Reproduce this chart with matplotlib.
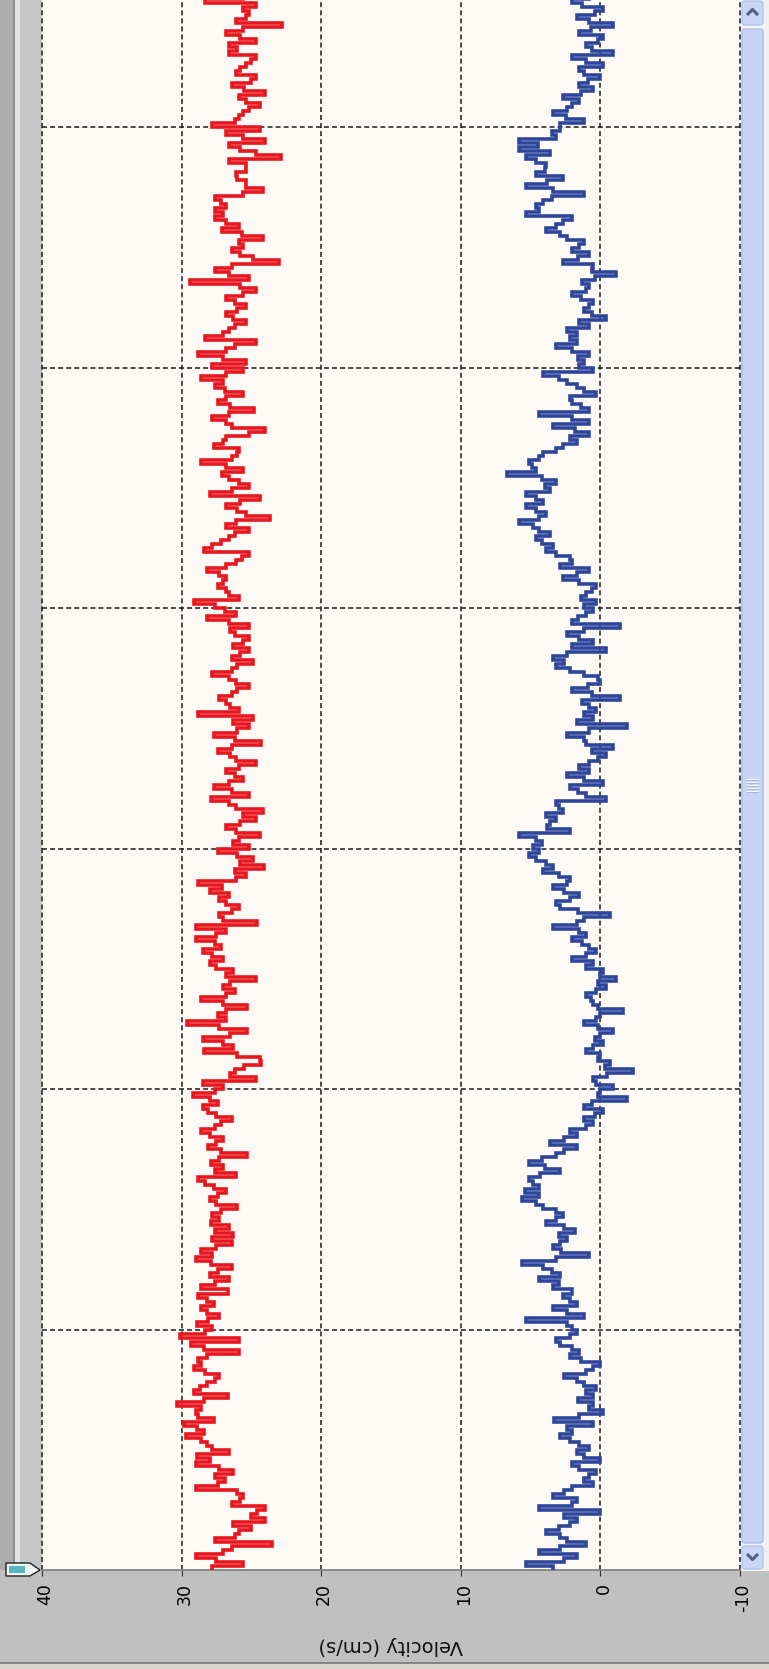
import numpy as np
import matplotlib.pyplot as plt
from matplotlib.patches import Rectangle, FancyBboxPatch, Polygon
from matplotlib.transforms import ScaledTranslation

plt.rcParams['lines.scale_dashes'] = False
plt.rcParams['font.family'] = ['DejaVu Sans']

# velocity traces, oldest sample first (bottom of the picture)
red_velocity = [
    27.8, 25.6, 27.5, 29.0, 27.0, 26.4, 23.5, 27.6, 26.2, 25.9,
    25.0, 26.3, 24.0, 25.0, 24.6, 24.0, 26.4, 25.8, 25.6, 26.0,
    29.0, 27.4, 26.9, 27.6, 26.3, 27.3, 29.0, 28.0, 28.9, 26.6,
    27.8, 28.2, 28.6, 29.7, 28.4, 28.9, 29.8, 27.7, 28.8, 29.0,
    28.6, 30.3, 28.4, 26.7, 29.1, 28.7, 28.2, 27.6, 27.3, 28.3,
    29.1, 28.6, 28.8, 28.2, 25.9, 28.4, 29.3, 25.9, 30.1, 28.3,
    27.8, 28.9, 28.1, 27.3, 28.2, 28.6, 27.7, 28.2, 28.8, 26.7,
    28.6, 27.6, 26.6, 28.0, 27.4, 26.4, 27.9, 29.0, 27.8, 28.6,
    27.5, 26.4, 27.8, 26.3, 27.6, 26.6, 27.9, 27.3, 27.8, 27.2,
    26.0, 27.5, 28.0, 27.4, 26.8, 27.7, 28.3, 28.8, 26.1, 27.6,
    27.0, 27.9, 27.3, 25.3, 27.2, 28.1, 27.5, 27.0, 28.0, 28.6,
    27.6, 27.2, 26.4, 27.5, 28.1, 28.5, 27.4, 28.0, 29.2, 27.6,
    27.0, 28.5, 24.7, 26.5, 26.2, 25.5, 24.3, 24.4, 26.0, 28.4,
    26.3, 27.0, 28.5, 26.5, 25.3, 27.3, 29.6, 26.8, 27.4, 26.8,
    25.3, 27.0, 28.6, 26.8, 26.2, 27.0, 26.5, 24.7, 26.8, 26.3,
    27.5, 28.0, 27.0, 27.8, 28.5, 27.2, 27.6, 29.0, 27.5, 26.8,
    29.0, 24.6, 27.0, 27.3, 26.4, 25.9, 26.8, 27.3, 26.6, 28.0,
    27.1, 28.8, 26.1, 25.4, 26.2, 24.1, 25.8, 24.9, 26.0, 27.4,
    25.2, 26.3, 25.9, 24.4, 26.1, 26.8, 25.8, 24.7, 25.6, 24.2,
    26.1, 26.6, 27.9, 25.2, 26.4, 27.7, 26.6, 25.6, 26.2, 26.8,
    25.9, 24.7, 26.1, 26.5, 27.4, 26.4, 24.3, 26.2, 27.7, 26.0,
    25.2, 26.3, 24.9, 28.8, 25.9, 26.5, 26.8, 27.3, 26.4, 26.0,
    25.2, 26.1, 26.6, 27.8, 26.4, 26.0, 24.9, 26.4, 25.8, 25.2,
    26.3, 25.6, 25.2, 26.2, 26.5, 25.2, 26.6, 28.2, 26.1, 26.9,
    27.6, 29.1, 25.9, 26.6, 26.8, 27.4, 27.0, 26.8, 27.3, 28.2,
    26.8, 26.1, 25.7, 25.2, 28.4, 27.8, 27.2, 26.6, 26.2, 25.2,
    26.8, 26.1, 23.7, 25.4, 26.0, 26.8, 25.8, 24.4, 28.0, 26.4,
    25.2, 25.9, 26.6, 27.1, 25.6, 26.8, 28.6, 26.4, 26.0, 25.9,
    27.7, 27.0, 26.8, 25.2, 24.0, 26.4, 26.8, 27.8, 26.6, 24.8,
    26.5, 27.4, 26.8, 25.6, 26.9, 27.6, 27.0, 28.6, 26.8, 25.6,
    27.8, 25.4, 27.0, 28.8, 26.8, 26.2, 24.7, 28.3, 27.0, 26.6,
    26.2, 25.4, 26.3, 26.8, 26.0, 25.4, 26.2, 26.8, 25.6, 24.7,
    25.8, 29.4, 25.2, 26.6, 27.6, 26.4, 23.0, 24.9, 25.8, 26.4,
    25.6, 25.9, 24.2, 25.7, 27.1, 25.9, 26.8, 27.6, 27.0, 27.6,
    26.8, 27.2, 27.6, 25.6, 24.2, 25.4, 25.4, 26.0, 26.1, 25.4,
    25.4, 26.6, 22.9, 24.7, 25.8, 26.6, 24.0, 25.6, 26.8, 24.4,
    27.8, 26.2, 25.9, 25.6, 25.2, 24.4, 25.4, 25.9, 24.0, 25.5,
    26.4, 25.0, 24.7, 26.1, 25.8, 25.4, 25.0, 24.7, 26.6, 26.0,
    26.6, 24.7, 25.8, 26.8, 25.6, 22.8, 26.1, 25.4, 25.2, 25.6,
    24.7, 28.3, 25.6, 26.0,
]

blue_velocity = [
    3.4, 5.3, 2.6, 1.7, 4.4, 2.9, 1.0, 2.4, 2.9, 3.9,
    3.0, 2.2, 1.7, 2.6, 0.0, 4.4, 2.0, 1.7, 3.4, 2.6,
    2.0, 0.5, 1.2, 0.8, 0.3, 1.5, 2.0, 0.0, 1.2, 1.7,
    0.8, 1.5, 2.2, 2.9, 2.0, 2.4, 0.5, 3.3, 1.5, -0.2,
    0.8, 0.5, 1.6, 0.5, 1.0, 0.3, 1.2, 1.7, 2.6, 1.0,
    0.5, 0.0, 1.4, 2.2, 1.5, 2.0, 2.9, 3.2, 2.2, 1.7,
    2.0, 2.4, 5.3, 1.2, 2.4, 3.4, 1.7, 2.2, 2.7, 2.0,
    3.4, 3.0, 4.4, 2.9, 3.5, 4.1, 5.6, 3.2, 0.8, 2.8,
    3.4, 2.9, 2.4, 3.0, 1.8, 2.6, 3.9, 3.2, 2.7, 3.2,
    4.1, 4.6, 5.6, 4.4, 5.4, 4.4, 4.8, 5.1, 4.3, 2.9,
    4.0, 5.1, 4.2, 3.2, 2.6, 1.7, 3.6, 2.6, 1.7, 2.2,
    1.0, 0.5, 1.2, 0.4, -0.2, 1.2, 0.6, -1.9, 0.2, 0.0,
    -0.9, 0.3, 0.5, -0.5, -2.3, -0.3, -0.7, 0.2, 0.0, 1.0,
    0.5, -0.2, 0.4, 0.0, -0.9, 0.2, 1.2, 0.3, 0.0, -1.6,
    0.2, 0.5, 0.7, 1.0, 0.3, -0.4, 0.2, -1.1, 0.0, -0.2,
    1.0, 0.5, 2.0, 1.0, 0.3, 0.8, 1.3, 2.0, 1.0, 1.5,
    3.4, 1.7, 1.2, -0.7, 1.6, 2.9, 3.2, 2.2, 1.5, 2.6,
    3.4, 2.4, 2.2, 3.0, 4.1, 3.4, 3.9, 4.6, 5.1, 4.4,
    4.8, 4.2, 4.6, 5.8, 2.2, 3.8, 3.6, 3.2, 3.9, 2.7,
    3.0, 3.2, -0.4, 1.0, 1.6, 2.2, -0.2, 1.2, 2.4, 0.8,
    1.5, 0.8, 0.2, -0.4, 0.6, -0.9, 1.0, 1.2, 2.4, 0.8,
    -1.9, 1.7, 0.5, 1.2, 0.3, 0.8, 1.3, -1.4, 0.6, 2.0,
    0.9, 0.0, 0.2, 1.2, 2.2, 3.2, 2.6, 3.4, 2.4, -0.4,
    2.0, 0.5, 1.5, 2.4, 1.2, -1.4, 2.0, 1.6, 1.0, 0.5,
    1.2, 0.3, 1.4, 1.0, 0.6, 0.3, 1.5, 2.7, 1.7, 0.8,
    2.9, 2.0, 2.2, 3.2, 3.9, 3.4, 4.2, 4.6, 3.6, 4.4,
    4.8, 5.8, 4.4, 3.9, 4.6, 5.3, 4.1, 4.6, 5.3, 3.6,
    4.0, 3.2, 4.2, 6.7, 4.6, 4.9, 5.1, 4.4, 4.1, 3.2,
    2.7, 1.7, 2.2, 0.8, 1.8, 3.4, 0.8, 2.0, 4.4, 0.8,
    1.4, 2.0, 2.2, 0.3, 1.2, 1.7, 2.4, 3.0, 4.1, 0.5,
    1.5, 1.2, 1.6, 0.8, 2.0, 3.2, 1.7, 2.2, 1.7, 2.4,
    0.8, 1.5, -0.4, 0.6, 1.2, 0.8, 0.5, 1.4, 2.0, 1.0,
    0.8, 1.3, 0.4, -1.1, 0.6, 0.5, 2.7, 1.6, 0.8, 2.0,
    1.5, 1.2, 2.4, 2.9, 3.9, 3.2, 2.7, 2.0, 5.3, 4.4,
    4.6, 4.1, 3.5, 1.2, 3.4, 5.3, 3.8, 2.7, 4.6, 4.0,
    3.9, 4.6, 5.3, 3.6, 5.8, 4.5, 5.8, 3.2, 3.5, 2.9,
    2.9, 1.2, 2.5, 3.4, 2.4, 2.0, 1.5, 2.7, 1.4, 0.5,
    1.5, 0.9, 0.0, 1.2, 1.5, -0.2, 1.0, 2.0, -0.9, 0.6,
    1.0, 0.2, -0.2, 1.5, 0.7, -0.9, 0.8, 1.7, 0.4, -0.2,
    1.3, 2.0, 0.8, -0.9,
]

sample_step = 1 / 60         # time units between samples
time_window = 6.53           # visible part of the time axis
time_grid = [1, 2, 3, 4, 5, 6]
vel_ticks = [40, 30, 20, 10, 0, -10]
vel_labels = ['40', '30', '20', '10', '0', '-10']

W, H = 769, 1669
fig = plt.figure(figsize=(W / 100, H / 100), dpi=100)
fig.patch.set_facecolor('#c0c0c0')

# window chrome, drawn in pixel coords (origin top-left)
bg = fig.add_axes([0, 0, 1, 1], zorder=0)
bg.set_xlim(0, W)
bg.set_ylim(H, 0)
bg.axis('off')
bg.add_patch(Rectangle((0, 0), 13, 1570, color='#adadad', lw=0))
bg.add_patch(Rectangle((13, 0), 2, 1566, color='#8e8e8e', lw=0))
bg.add_patch(Rectangle((15, 0), 5, 1563, color='#e4e4e4', lw=0))
bg.add_patch(Rectangle((20, 0), 22, 1570, color='#c6c6c6', lw=0))
bg.add_patch(Rectangle((0, 1662), W, 2, color='#858585', lw=0))
bg.add_patch(Rectangle((0, 1664), W, 5, color='#d8d6d0', lw=0))

# little marker at the axis corner
bg.add_patch(Polygon([(6, 1563), (30, 1563), (40, 1570), (30, 1576), (6, 1576)],
                     closed=True, facecolor='#eef4f4', edgecolor='#222222', lw=1))
bg.add_patch(Rectangle((9, 1566), 16, 7, color='#58b4bd', lw=0))

# scrollbar
bg.add_patch(Rectangle((740, 0), 29, 1571, color='#f4f3ef', lw=0))
bg.add_patch(Rectangle((764, 0), 5, 1571, color='#f0f0f0', lw=0))
box = dict(boxstyle='round,pad=0,rounding_size=3', lw=1)
bg.add_patch(FancyBboxPatch((742, 1), 21, 24, facecolor='#c9d6f6', edgecolor='#b3c3ea', **box))
bg.add_patch(FancyBboxPatch((742, 29), 21, 1514, facecolor='#c7d4f5', edgecolor='#aabbe6', **box))
bg.add_patch(FancyBboxPatch((742, 1546), 21, 23, facecolor='#c9d6f6', edgecolor='#b3c3ea', **box))
bg.plot([747, 752.5, 758], [15, 9.5, 15], color='#4d6186', lw=2.2, solid_capstyle='butt')
bg.plot([747, 752.5, 758], [1554, 1559.5, 1554], color='#4d6186', lw=2.2, solid_capstyle='butt')
for yy in [779, 782, 785, 788, 791]:
    bg.plot([747, 758], [yy, yy], color='#f4f7fe', lw=0.9)
    bg.plot([747, 758], [yy + 1.2, yy + 1.2], color='#a3b5e0', lw=0.7)

# plot area
ax = fig.add_axes([42 / W, 99 / H, 698 / W, 1570 / H], zorder=1)
ax.set_facecolor('#fdfaf5')
ax.set_xlim(40, -10)
ax.set_ylim(0, time_window)

for v in vel_ticks:
    ax.axvline(v, color='#1a1a1a', lw=1.1, linestyle=(0, (3.6, 2.2)), zorder=1, clip_on=False)
for t in time_grid:
    ax.axhline(t, color='#1a1a1a', lw=1.1, linestyle=(0, (3.6, 2.2)), zorder=1)


def stepped(values):
    # hold each sample until the next one arrives
    vals = np.asarray(values, dtype=float)
    times = np.arange(len(vals)) * sample_step
    return np.repeat(vals, 2)[:-1], np.repeat(times, 2)[1:]


rx, ry = stepped(red_velocity)
bx, by = stepped(blue_velocity)
ax.plot(rx, ry, color='#e8161e', lw=2.6, solid_joinstyle='miter', zorder=3)
ax.plot(bx, by, color='#2d469b', lw=2.6, solid_joinstyle='miter', zorder=3)

for side in ['left', 'right', 'top']:
    ax.spines[side].set_visible(False)
ax.spines['bottom'].set_color('#7d7d7d')
ax.spines['bottom'].set_linewidth(1.2)

ax.set_yticks([])
ax.set_xticks(vel_ticks)
ax.set_xticklabels(vel_labels)
ax.tick_params(axis='x', direction='out', length=4.5, width=0.8, color='#333333',
               pad=5, labelsize=12.5, labelrotation=90)
shift = ScaledTranslation(3 / 100, 0, fig.dpi_scale_trans)
for lab in ax.get_xticklabels():
    lab.set_transform(lab.get_transform() + shift)

fig.text(391 / W, 1 - 1645 / H, 'Velocity (cm/s)', rotation=180, ha='center', va='center',
         fontsize=14, color='#111111')

fig.savefig('out.png', dpi=100, facecolor=fig.get_facecolor())
